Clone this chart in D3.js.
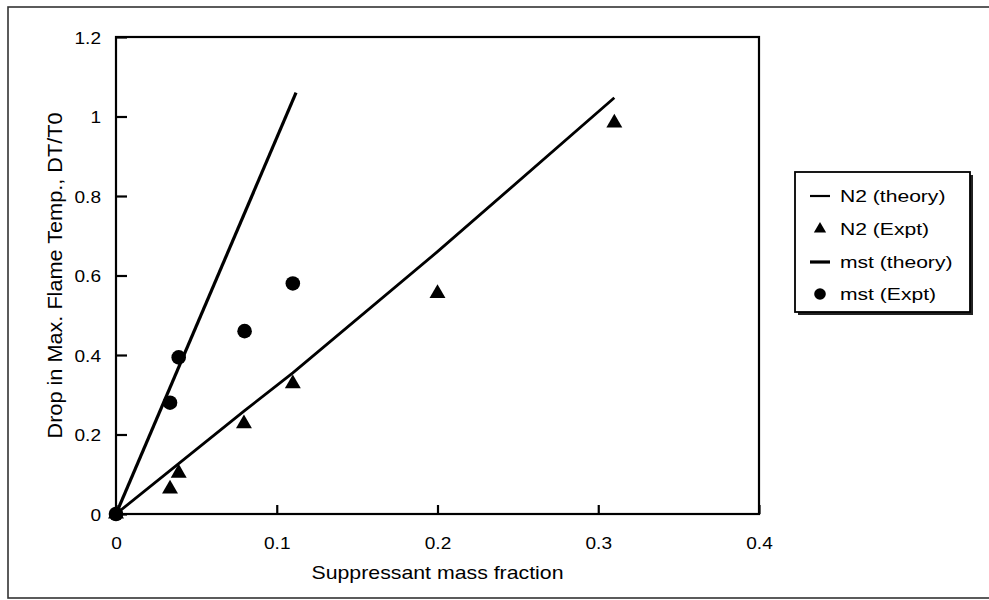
<!DOCTYPE html>
<html>
<head>
<meta charset="utf-8">
<script src="https://cdn.jsdelivr.net/npm/d3@7"></script>
<style>
  html, body { margin: 0; padding: 0; background: #fff; }
  svg { display: block; font-family: "Liberation Sans", Arial, Helvetica, sans-serif; }
</style>
</head>
<body>
<div id="chart"></div>
<script>
// data
const xTicks = [0, 0.1, 0.2, 0.3, 0.4];
const yTicks = [0, 0.2, 0.4, 0.6, 0.8, 1, 1.2];

const n2Theory = [[0, 0], [0.08, 0.26], [0.11, 0.355], [0.2, 0.66], [0.31, 1.047]];
const n2Expt = [[0, 0], [0.0336, 0.063], [0.039, 0.103], [0.0796, 0.227], [0.110, 0.328], [0.2, 0.555], [0.31, 0.984]];
const mstTheory = [[0, 0], [0.112, 1.06]];
const mstExpt = [[0, 0], [0.0336, 0.28], [0.039, 0.394], [0.08, 0.46], [0.110, 0.58]];

const legendLabels = ["N2 (theory)", "N2 (Expt)", "mst (theory)", "mst (Expt)"];

const width = 989, height = 600;
const margin = { left: 116, top: 37, right: 759, bottom: 514 };

const svg = d3.select('#chart').append('svg')
    .attr('width', width)
    .attr('height', height);

// stretch text horizontally, the scan is wider than the font
function stretch(sel, k) {
    sel.each(function () {
        const len = this.getComputedTextLength();
        d3.select(this).attr('textLength', len * k).attr('lengthAdjust', 'spacingAndGlyphs');
    });
}

// outer frame
svg.append('rect')
    .attr('x', 8).attr('y', 7)
    .attr('width', 995).attr('height', 591)
    .attr('fill', 'none')
    .attr('stroke', '#333')
    .attr('stroke-width', 1.6);

const x = d3.scaleLinear().domain([0, 0.4]).range([margin.left, margin.right]);
const y = d3.scaleLinear().domain([0, 1.2]).range([margin.bottom, margin.top]);

// plot box
svg.append('rect')
    .attr('x', margin.left).attr('y', margin.top)
    .attr('width', margin.right - margin.left)
    .attr('height', margin.bottom - margin.top)
    .attr('fill', 'none')
    .attr('stroke', '#000')
    .attr('stroke-width', 2.2);

// axes, ticks point inward
const xAxis = svg.append('g')
    .attr('transform', `translate(0,${margin.bottom})`)
    .call(d3.axisTop(x).tickValues(xTicks).tickSize(9).tickFormat(d3.format('~g')));
xAxis.select('.domain').remove();
xAxis.selectAll('line').attr('stroke', '#000').attr('stroke-width', 2.2);
xAxis.selectAll('text')
    .attr('y', 35)
    .attr('dy', 0)
    .attr('font-size', 17)
    .attr('fill', '#000')
    .call(stretch, 1.12);

const yAxis = svg.append('g')
    .attr('transform', `translate(${margin.left},0)`)
    .call(d3.axisRight(y).tickValues(yTicks).tickSize(11).tickFormat(d3.format('~g')));
yAxis.select('.domain').remove();
yAxis.selectAll('line').attr('stroke', '#000').attr('stroke-width', 2.2);
yAxis.selectAll('text')
    .attr('x', -15)
    .attr('dy', '0.36em')
    .attr('text-anchor', 'end')
    .attr('font-size', 17)
    .attr('fill', '#000')
    .call(stretch, 1.12);

// axis titles
svg.append('text')
    .attr('x', (margin.left + margin.right) / 2)
    .attr('y', 579)
    .attr('text-anchor', 'middle')
    .attr('font-size', 19)
    .attr('textLength', 252)
    .attr('lengthAdjust', 'spacingAndGlyphs')
    .text('Suppressant mass fraction');

svg.append('text')
    .attr('transform', `translate(62,${(margin.top + margin.bottom) / 2}) rotate(-90)`)
    .attr('text-anchor', 'middle')
    .attr('font-size', 20)
    .attr('textLength', 326)
    .attr('lengthAdjust', 'spacingAndGlyphs')
    .text('Drop in Max. Flame Temp., DT/T0');

// lines
const line = d3.line().x(d => x(d[0])).y(d => y(d[1]));

svg.append('path')
    .datum(n2Theory)
    .attr('d', line)
    .attr('fill', 'none')
    .attr('stroke', '#000')
    .attr('stroke-width', 2.8);

svg.append('path')
    .datum(mstTheory)
    .attr('d', line)
    .attr('fill', 'none')
    .attr('stroke', '#000')
    .attr('stroke-width', 3.2);

// markers
const tri = d3.symbol().type(d3.symbolTriangle).size(110);

svg.selectAll('.tri')
    .data(n2Expt)
    .enter().append('path')
    .attr('class', 'tri')
    .attr('d', tri)
    .attr('transform', d => `translate(${x(d[0])},${y(d[1])})`)
    .attr('fill', '#000');

svg.selectAll('.dot')
    .data(mstExpt)
    .enter().append('circle')
    .attr('class', 'dot')
    .attr('cx', d => x(d[0]))
    .attr('cy', d => y(d[1]))
    .attr('r', 7.3)
    .attr('fill', '#000');

// legend
const lg = svg.append('g');
lg.append('rect')
    .attr('x', 798).attr('y', 175)
    .attr('width', 175).attr('height', 140)
    .attr('fill', '#222');
lg.append('rect')
    .attr('x', 795).attr('y', 172)
    .attr('width', 175).attr('height', 140)
    .attr('fill', '#fff')
    .attr('stroke', '#000')
    .attr('stroke-width', 1.8);

const rowY = [196, 229, 262, 294];

legendLabels.forEach((label, i) => {
    const cy = rowY[i];
    if (i === 0 || i === 2) {
        lg.append('line')
            .attr('x1', 810).attr('x2', 830)
            .attr('y1', cy).attr('y2', cy)
            .attr('stroke', '#000')
            .attr('stroke-width', i === 0 ? 2.2 : 3.2);
    } else if (i === 1) {
        lg.append('path')
            .attr('d', d3.symbol().type(d3.symbolTriangle).size(65))
            .attr('transform', `translate(820,${cy})`);
    } else {
        lg.append('circle')
            .attr('cx', 820).attr('cy', cy).attr('r', 5.8);
    }
    lg.append('text')
        .attr('x', 840)
        .attr('y', cy + 6)
        .attr('font-size', 17)
        .text(label)
        .call(stretch, 1.24);
});
</script>
</body>
</html>
